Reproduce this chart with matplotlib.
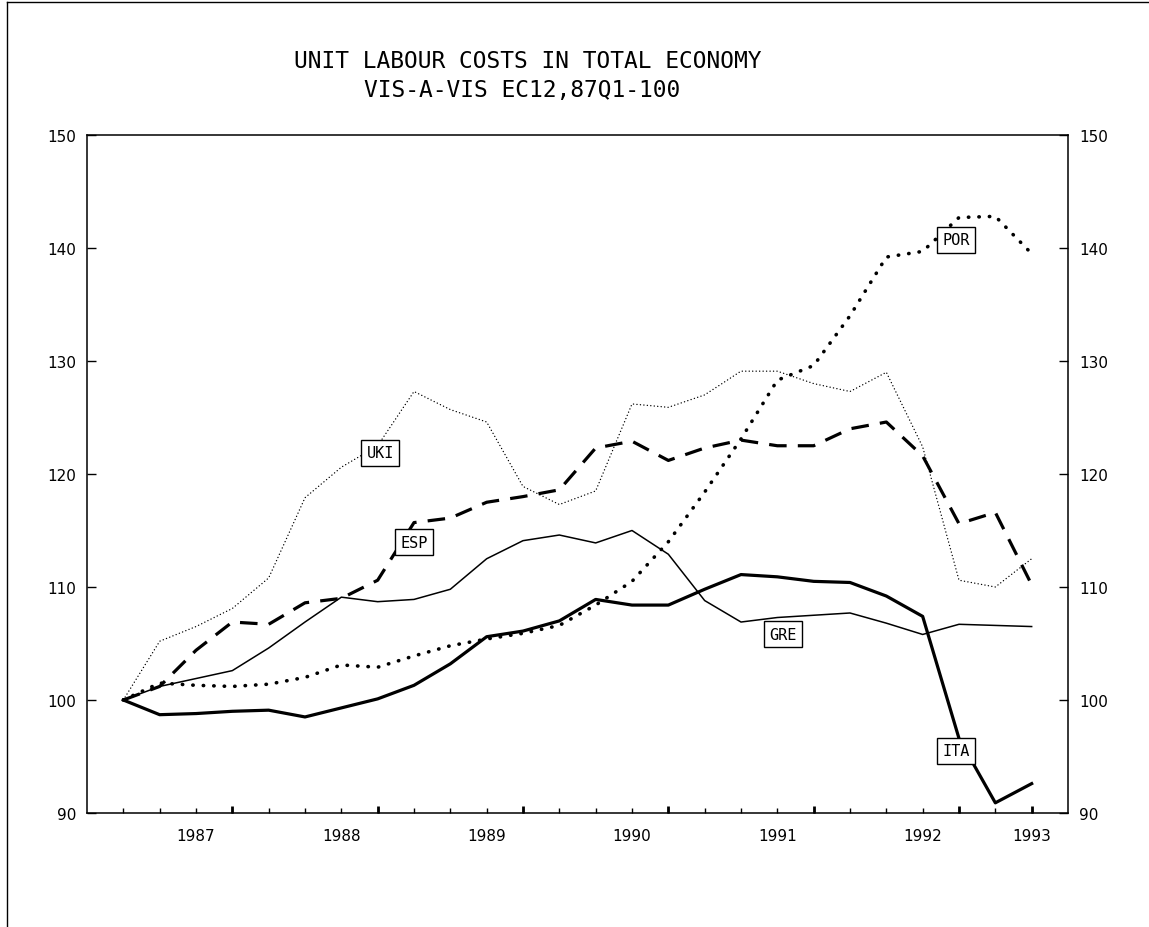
import numpy as np
import matplotlib
matplotlib.use("Agg")
from matplotlib import pyplot as plt
from matplotlib.lines import Line2D

# quarterly index numbers, 87Q1 = 100 (quarter 1 = 87Q1 ... 26 = 93Q2)
quarters = np.arange(1, 27)

uki = [100, 105.2, 106.5, 108.1, 110.8, 117.9, 120.6, 122.5, 127.3, 125.7,
       124.6, 118.9, 117.3, 118.5, 126.2, 125.9, 127.0, 129.1, 129.1, 128.0,
       127.3, 129.0, 122.4, 110.6, 110.0, 112.5]
esp = [100, 101.2, 104.4, 106.9, 106.7, 108.6, 109.0, 110.6, 115.7, 116.1,
       117.5, 118.0, 118.6, 122.3, 122.9, 121.2, 122.3, 123.0, 122.5, 122.5,
       124.0, 124.6, 121.6, 115.6, 116.6, 110.2]
por = [100, 101.5, 101.3, 101.2, 101.4, 102.0, 103.1, 102.9, 103.9, 104.8,
       105.4, 105.9, 106.6, 108.4, 110.5, 114.0, 118.4, 123.1, 128.3, 129.6,
       134.0, 139.2, 139.7, 142.7, 142.8, 139.5]
gre = [100, 101.2, 101.9, 102.6, 104.6, 106.9, 109.1, 108.7, 108.9, 109.8,
       112.5, 114.1, 114.6, 113.9, 115.0, 112.9, 108.8, 106.9, 107.3, 107.5,
       107.7, 106.8, 105.8, 106.7, 106.6, 106.5]
ita = [100, 98.7, 98.8, 99.0, 99.1, 98.5, 99.3, 100.1, 101.3, 103.2,
       105.6, 106.1, 107.0, 108.9, 108.4, 108.4, 109.8, 111.1, 110.9, 110.5,
       110.4, 109.2, 107.4, 96.6, 90.9, 92.6]

year_labels = ["1987", "1988", "1989", "1990", "1991", "1992", "1993"]
year_label_q = [3, 7, 11, 15, 19, 23, 26]
year_start_q = [4, 8, 12, 16, 20, 24, 26]

W, H = 1149, 928
fig = plt.figure(figsize=(W / 100, H / 100), dpi=100)
ax = fig.add_axes([87 / W, 1 - 814 / H, 981 / W, 678 / H])

ax.plot(quarters, uki, color="black", lw=1.0,
        linestyle=(0, (0.1, 2.4)), dash_capstyle="round")
ax.plot(quarters, esp, color="black", lw=2.3, linestyle=(0, (5.5, 3.5)))
ax.plot(quarters, por, color="black", lw=2.6,
        linestyle=(0, (0.1, 2.8)), dash_capstyle="round")
ax.plot(quarters, gre, color="black", lw=1.1)
ax.plot(quarters, ita, color="black", lw=2.3, solid_joinstyle="round")

# boxed series names, anchored on a data point
box = dict(boxstyle="square,pad=0.35", fc="white", ec="black", lw=1.0)
names = [("UKI", uki, 8, (2, -5)), ("ESP", esp, 9, (0, -14)),
         ("POR", por, 24, (-2, -16)), ("GRE", gre, 19, (4, -12)),
         ("ITA", ita, 24, (-2, -9))]
for name, ser, q, off in names:
    ax.annotate(name, (q, ser[q - 1]), xytext=off, textcoords="offset points",
                ha="center", va="center", fontsize=11,
                family="DejaVu Sans Mono", bbox=box, zorder=5)

ax.set_xlim(0, 27)
ax.set_ylim(90, 150)
ax.set_yticks(np.arange(90, 151, 10))

ax.set_xticks(quarters)
ax.set_xticklabels([year_labels[year_label_q.index(q)] if q in year_label_q else ""
                    for q in quarters])
ax.set_xticks(year_start_q, minor=True)
ax.xaxis.remove_overlapping_locs = False
ax.tick_params(axis="x", which="major", direction="in", length=3.5, width=1,
               pad=11, labelsize=11)
ax.tick_params(axis="x", which="minor", direction="in", length=5, width=2)
ax.tick_params(axis="y", direction="in", length=6.5, width=1, labelsize=11,
               left=True, right=True, labelleft=True, labelright=True, pad=8)
for s in ax.spines.values():
    s.set_linewidth(1.1)

fig.text(528 / W, 1 - 62 / H, "UNIT LABOUR COSTS IN TOTAL ECONOMY",
         ha="center", va="center", fontsize=16.5, family="DejaVu Sans Mono")
fig.text(522 / W, 1 - 91 / H, "VIS-A-VIS EC12,87Q1-100",
         ha="center", va="center", fontsize=16.5, family="DejaVu Sans Mono")

# outer frame (left and top edges of the scanned page)
fig.add_artist(Line2D([7 / W, 7 / W], [0, 1 - 3 / H], color="black", lw=1.0))
fig.add_artist(Line2D([7 / W, 1], [1 - 3 / H, 1 - 3 / H], color="black", lw=1.0))

fig.savefig("out.png", dpi=100)
